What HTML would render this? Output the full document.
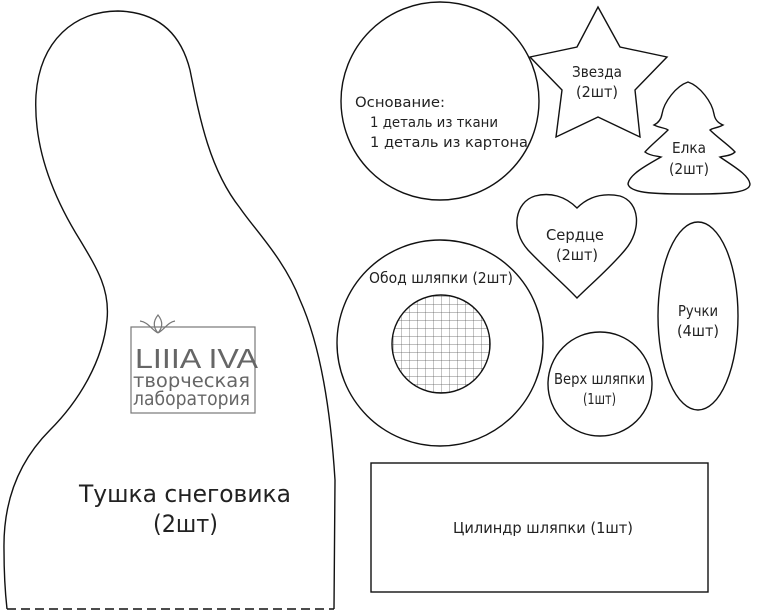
<!DOCTYPE html>
<html><head><meta charset="utf-8"><style>
html,body{margin:0;padding:0;background:#fff;}
svg{display:block;}
text{font-family:"DejaVu Sans","Liberation Sans",sans-serif;fill:#222;}
</style></head><body>
<svg width="760" height="615" viewBox="0 0 760 615" xmlns="http://www.w3.org/2000/svg">
<defs>
<clipPath id="c"><circle cx="441" cy="344" r="49"/></clipPath>
<pattern id="g" width="8" height="8" patternUnits="userSpaceOnUse" x="393" y="296">
<path d="M0 0H8M0 0V8" stroke="#555" stroke-width="0.7" fill="none"/>
</pattern>
</defs>
<g fill="none" stroke="#111" stroke-width="1.4">
<path d="M334 609 L335 480 C330 400 318 340 300 300 C285 260 255 230 240 208 C210 170 200 120 190 70 C180 30 155 12 118 11 C75 11 40 40 36 95 C33 150 55 200 80 240 C98 270 110 290 107 320 C103 360 80 400 50 430 C20 460 3 500 4 550 C4 580 6 600 7 609"/>
<path d="M7 609 H334" stroke-dasharray="9 5"/>
<circle cx="440" cy="101" r="99"/>
<path d="M598 7 L620 47 L667 57 L635 90 L640 137 L598 117 L556 137 L562 90 L530 57 L577 47 Z"/>
<path d="M688 82 C676 86 664 102 662 114 C661 120 658 123 654 125 C660 128 666 128 668 130 C660 138 650 146 645 152 C650 156 657 156 661 157 C645 166 629 175 628 184 C630 194 660 194 690 194 C720 194 750 194 750 184 C749 175 733 166 720 157 C724 156 731 156 735 152 C730 146 718 138 710 130 C712 128 718 128 723 125 C718 123 715 120 714 114 C712 102 700 86 688 82 Z"/>
<path d="M577 208 C590 195 605 193 620 196 C640 202 642 230 625 250 C610 268 590 285 577 298 C565 285 545 268 528 250 C510 230 515 202 535 196 C550 192 565 196 577 208 Z"/>
<ellipse cx="698" cy="316" rx="40" ry="94"/>
<circle cx="440" cy="343" r="103"/>
<circle cx="600" cy="384" r="52"/>
<rect x="371" y="463" width="337" height="129"/>
</g>
<rect x="390" y="292" width="102" height="104" fill="url(#g)" clip-path="url(#c)"/>
<circle cx="441" cy="344" r="49" fill="none" stroke="#111" stroke-width="1.4"/>
<g stroke="#777" fill="none" stroke-width="1.2">
<rect x="131" y="327" width="124" height="86"/>
<path d="M140 321 C148 322 152 330 158 333 M175 321 C168 322 164 330 158 333 M158 333 C152 326 154 320 158 315 C162 320 164 326 158 333"/>
</g>
<text x="135" y="368" font-size="28" textLength="123" lengthAdjust="spacingAndGlyphs" style="fill:#666;font-family:'Liberation Sans Narrow','Liberation Sans',sans-serif">LIIIA IVA</text>
<text x="133" y="387" font-size="19" textLength="117" lengthAdjust="spacingAndGlyphs" style="fill:#666">творческая</text>
<text x="133" y="405" font-size="19" textLength="117" lengthAdjust="spacingAndGlyphs" style="fill:#666">лаборатория</text>
<g font-size="14" lengthAdjust="spacingAndGlyphs">
<text x="355" y="107" textLength="90" lengthAdjust="spacingAndGlyphs">Основание:</text>
<text x="370" y="127" textLength="128" lengthAdjust="spacingAndGlyphs">1 деталь из ткани</text>
<text x="370" y="147" textLength="158" lengthAdjust="spacingAndGlyphs">1 деталь из картона</text>
</g>
<g font-size="15">
<text x="572" y="77" textLength="50" lengthAdjust="spacingAndGlyphs">Звезда</text>
<text x="576" y="97" textLength="42" lengthAdjust="spacingAndGlyphs">(2шт)</text>
<text x="672" y="153" textLength="34" lengthAdjust="spacingAndGlyphs">Елка</text>
<text x="669" y="174" textLength="40" lengthAdjust="spacingAndGlyphs">(2шт)</text>
<text x="546" y="240" textLength="58" lengthAdjust="spacingAndGlyphs">Сердце</text>
<text x="556" y="260" textLength="42" lengthAdjust="spacingAndGlyphs">(2шт)</text>
<text x="678" y="316" textLength="40" lengthAdjust="spacingAndGlyphs">Ручки</text>
<text x="677" y="336" textLength="42" lengthAdjust="spacingAndGlyphs">(4шт)</text>
<text x="554" y="384" textLength="91" lengthAdjust="spacingAndGlyphs">Верх шляпки</text>
<text x="583" y="404" textLength="33" lengthAdjust="spacingAndGlyphs">(1шт)</text>
<text x="369" y="283" textLength="144" lengthAdjust="spacingAndGlyphs">Обод шляпки (2шт)</text>
<text x="453" y="533" textLength="180" lengthAdjust="spacingAndGlyphs">Цилиндр шляпки (1шт)</text>
</g>
<g font-size="24">
<text x="79" y="502" textLength="212" lengthAdjust="spacingAndGlyphs">Тушка снеговика</text>
<text x="153" y="532" textLength="65" lengthAdjust="spacingAndGlyphs">(2шт)</text>
</g>
</svg>
</body></html>
